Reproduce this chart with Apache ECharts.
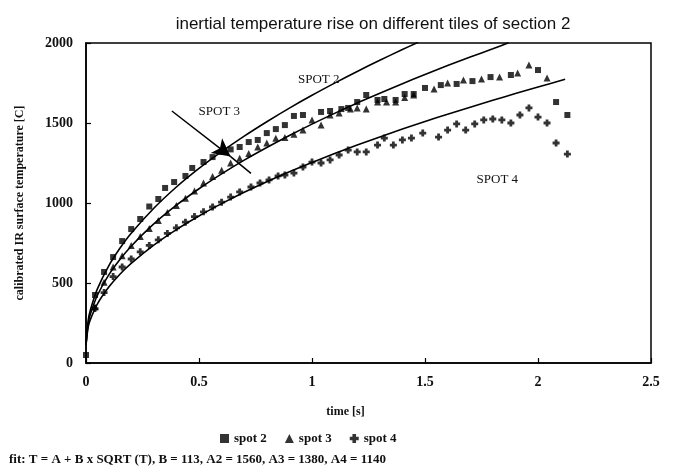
<!DOCTYPE html>
<html>
<head>
<meta charset="utf-8">
<script src="https://cdn.jsdelivr.net/npm/echarts@6/dist/echarts.min.js"></script>
<style>
html,body{margin:0;padding:0;background:#fff;}
#chart{width:679px;height:468px;}
</style>
</head>
<body>
<div id="chart"></div>
<script>
// measured points [time s, temperature C]
var spot2Data = [
  [0, 50], [0.04, 425], [0.08, 569], [0.12, 662], [0.16, 762], [0.20, 837], [0.24, 900],
  [0.28, 978], [0.32, 1025], [0.35, 1094], [0.39, 1131], [0.44, 1169], [0.47, 1219],
  [0.52, 1256], [0.56, 1287], [0.60, 1320], [0.64, 1335], [0.68, 1350], [0.72, 1381],
  [0.76, 1394], [0.80, 1437], [0.84, 1462], [0.88, 1487], [0.92, 1544], [0.96, 1550],
  [1.04, 1569], [1.08, 1575], [1.13, 1587], [1.16, 1594], [1.20, 1631], [1.24, 1675],
  [1.29, 1644], [1.32, 1650], [1.37, 1644], [1.41, 1681], [1.45, 1681], [1.50, 1719],
  [1.57, 1737], [1.64, 1744], [1.71, 1762], [1.79, 1787], [1.88, 1800], [2.00, 1831],
  [2.08, 1631], [2.13, 1550]
];
var spot3Data = [
  [0.04, 350], [0.08, 505], [0.12, 600], [0.16, 670], [0.20, 735], [0.24, 790],
  [0.28, 840], [0.32, 890], [0.36, 940], [0.40, 985], [0.44, 1030], [0.48, 1075],
  [0.52, 1125], [0.56, 1165], [0.60, 1205], [0.64, 1250], [0.68, 1280], [0.72, 1310],
  [0.76, 1350], [0.80, 1375], [0.84, 1405], [0.88, 1410], [0.92, 1430], [0.96, 1456],
  [1.00, 1519], [1.04, 1487], [1.08, 1550], [1.12, 1562], [1.17, 1587], [1.20, 1594],
  [1.24, 1587], [1.29, 1631], [1.33, 1631], [1.37, 1631], [1.41, 1660], [1.45, 1675],
  [1.54, 1712], [1.60, 1750], [1.67, 1769], [1.75, 1775], [1.83, 1787], [1.91, 1812],
  [1.96, 1862], [2.04, 1781]
];
var spot4Data = [
  [0.04, 340], [0.08, 440], [0.12, 540], [0.16, 600], [0.20, 650], [0.24, 695],
  [0.28, 735], [0.32, 770], [0.36, 810], [0.40, 845], [0.44, 880], [0.48, 915],
  [0.52, 945], [0.56, 975], [0.60, 1005], [0.64, 1037], [0.68, 1069], [0.73, 1100],
  [0.77, 1125], [0.81, 1144], [0.85, 1169], [0.88, 1175], [0.92, 1187], [0.96, 1225],
  [1.00, 1256], [1.04, 1250], [1.08, 1269], [1.12, 1300], [1.16, 1331], [1.20, 1319],
  [1.24, 1319], [1.29, 1362], [1.32, 1406], [1.36, 1362], [1.40, 1394], [1.44, 1406],
  [1.49, 1437], [1.56, 1412], [1.60, 1456], [1.64, 1494], [1.68, 1456], [1.72, 1494],
  [1.76, 1519], [1.80, 1525], [1.84, 1519], [1.88, 1500], [1.92, 1550], [1.96, 1594],
  [2.00, 1537], [2.04, 1500], [2.08, 1375], [2.13, 1306]
];

// fitted curves
var fit2Data = [
  [0, 113], [0.01, 269], [0.02, 334], [0.05, 462], [0.1, 606], [0.15, 717], [0.2, 811],
  [0.3, 967], [0.4, 1100], [0.5, 1216], [0.6, 1321], [0.7, 1418], [0.8, 1508], [0.9, 1593],
  [1.0, 1673], [1.1, 1749], [1.2, 1822], [1.3, 1892], [1.4, 1959], [1.47, 2005]
];
var fit3Data = [
  [0, 113], [0.01, 251], [0.02, 308], [0.05, 422], [0.1, 549], [0.15, 647], [0.2, 730],
  [0.3, 869], [0.4, 986], [0.5, 1089], [0.6, 1182], [0.7, 1268], [0.8, 1347], [0.9, 1422],
  [1.0, 1493], [1.1, 1560], [1.2, 1625], [1.3, 1686], [1.4, 1746], [1.5, 1803], [1.6, 1859],
  [1.7, 1912], [1.8, 1964], [1.87, 2002]
];
var fit4Data = [
  [0, 113], [0.01, 227], [0.02, 274], [0.05, 368], [0.1, 473], [0.15, 555], [0.2, 623],
  [0.3, 737], [0.4, 834], [0.5, 919], [0.6, 996], [0.7, 1067], [0.8, 1133], [0.9, 1195],
  [1.0, 1253], [1.1, 1309], [1.2, 1362], [1.3, 1413], [1.4, 1462], [1.5, 1509], [1.6, 1555],
  [1.7, 1599], [1.8, 1642], [1.9, 1684], [2.0, 1725], [2.12, 1773]
];

var seriesNames = ['spot 2', 'spot 3', 'spot 4'];
var spotLabels = [
  {text: 'SPOT 2', at: [1.03, 1769]},
  {text: 'SPOT 3', at: [0.59, 1569]},
  {text: 'SPOT 4', at: [1.82, 1144]}
];
var arrowFrom = [0.38, 1575];
var arrowTip = [0.64, 1290];
var arrowEnd = [0.73, 1185];
var fitNote = 'fit: T = A + B x SQRT (T), B = 113, A2 = 1560, A3 = 1380, A4 = 1140';

var serif = '"Liberation Serif", "DejaVu Serif", serif';
var plusPath = 'path://M3,0 L7,0 L7,3 L10,3 L10,7 L7,7 L7,10 L3,10 L3,7 L0,7 L0,3 L3,3 Z';

var chart = echarts.init(document.getElementById('chart'));

function fitLine(data){
  return {
    type: 'line',
    data: data,
    symbol: 'none',
    smooth: 0.3,
    silent: true,
    lineStyle: {color: '#000', width: 1.6},
    z: 2
  };
}

var option = {
  backgroundColor: '#fff',
  animation: false,
  title: [{
    text: 'inertial temperature rise on different tiles of section 2',
    left: 368,
    top: 11,
    textAlign: 'center',
    textStyle: {fontFamily: '"Liberation Sans", Arial, sans-serif', fontSize: 17, fontWeight: 'normal', color: '#111'}
  }, {
    text: fitNote,
    left: 4,
    top: 448,
    textStyle: {fontFamily: serif, fontSize: 13, fontWeight: 'bold', color: '#111'}
  }],
  legend: {
    data: seriesNames,
    left: 215,
    top: 427,
    itemGap: 18,
    itemWidth: 9,
    itemHeight: 9,
    textStyle: {fontFamily: serif, fontSize: 13, fontWeight: 'bold', color: '#111'}
  },
  grid: {
    left: 86, right: 28, top: 43, bottom: 105,
    show: true, borderColor: '#000', borderWidth: 1.5, backgroundColor: 'transparent'
  },
  xAxis: {
    type: 'value',
    min: 0, max: 2.5, interval: 0.5,
    name: 'time [s]',
    nameLocation: 'middle',
    nameGap: 43,
    nameTextStyle: {fontFamily: serif, fontSize: 12, fontWeight: 'bold', color: '#111', padding: [0, 46, 0, 0]},
    axisLine: {lineStyle: {color: '#000', width: 1.5}},
    axisTick: {inside: true, length: 5, lineStyle: {color: '#000', width: 1.2}},
    axisLabel: {margin: 12, fontFamily: serif, fontSize: 14, fontWeight: 'bold', color: '#111',
      formatter: function(v){ return String(v); }},
    splitLine: {show: false}
  },
  yAxis: {
    type: 'value',
    min: 0, max: 2000, interval: 500,
    name: 'calibrated IR surface temperature [C]',
    nameLocation: 'middle',
    nameGap: 60,
    nameTextStyle: {fontFamily: serif, fontSize: 12, fontWeight: 'bold', color: '#111'},
    axisLine: {lineStyle: {color: '#000', width: 1.5}},
    axisTick: {inside: true, length: 5, lineStyle: {color: '#000', width: 1.2}},
    axisLabel: {margin: 13, fontFamily: serif, fontSize: 14, fontWeight: 'bold', color: '#111',
      formatter: function(v){ return String(v); }},
    splitLine: {show: false}
  },
  series: [
    {
      name: seriesNames[0], type: 'scatter', data: spot2Data,
      symbol: 'rect', symbolSize: 6,
      itemStyle: {color: '#000'}, z: 3
    },
    {
      name: seriesNames[1], type: 'scatter', data: spot3Data,
      symbol: 'triangle', symbolSize: 7,
      itemStyle: {color: '#000'}, z: 3
    },
    {
      name: seriesNames[2], type: 'scatter', data: spot4Data,
      symbol: plusPath, symbolSize: 7,
      itemStyle: {color: '#000'}, z: 3
    },
    fitLine(fit2Data),
    fitLine(fit3Data),
    Object.assign(fitLine(fit4Data), {
      markPoint: {
        symbol: 'circle', symbolSize: 0, silent: true,
        label: {show: true, position: 'inside', fontFamily: serif, fontSize: 13, color: '#111'},
        data: spotLabels.map(function(s){ return {coord: s.at, value: s.text, label: {formatter: s.text}}; })
      },
      markLine: {
        silent: true,
        symbol: 'none',
        lineStyle: {color: '#000', width: 1.5, type: 'solid'},
        label: {show: false},
        data: [
          [{coord: arrowFrom, symbol: 'none'}, {coord: arrowTip, symbol: 'arrow', symbolSize: [14, 18]}],
          [{coord: arrowTip}, {coord: arrowEnd}]
        ]
      }
    })
  ]
};

chart.setOption(option);
</script>
</body>
</html>
